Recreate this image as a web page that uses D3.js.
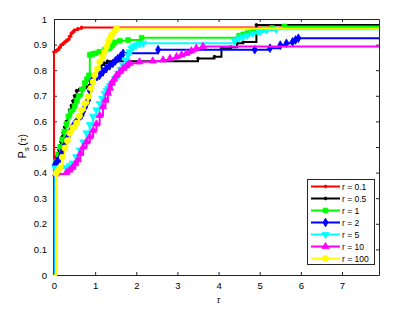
<!DOCTYPE html>
<html>
<head>
<meta charset="utf-8">
<script src="https://cdn.jsdelivr.net/npm/d3@7"></script>
<style>
  body { margin: 0; background: #fff; }
  text { font-family: "Liberation Sans", Arial, sans-serif; }
</style>
</head>
<body>
<script>
// performance profile data
const legendLabels = ['r = 0.1', 'r = 0.5', 'r = 1', 'r = 2', 'r = 5', 'r = 10', 'r = 100'];
const xTicks = [0, 1, 2, 3, 4, 5, 6, 7];
const yTicks = [0, 0.1, 0.2, 0.3, 0.4, 0.5, 0.6, 0.7, 0.8, 0.9, 1];

const tauR01 = [0, 0, 0.05, 0.09, 0.13, 0.17, 0.22, 0.26, 0.3, 0.34, 0.38, 0.42, 0.46, 0.5, 0.58, 0.67, 7.9];
const pR01 = [0, 0.871, 0.876, 0.88, 0.889, 0.898, 0.904, 0.91, 0.915, 0.92, 0.932, 0.944, 0.95, 0.957, 0.962, 0.967, 0.967];

const tauR05 = [0, 0.03, 0.06, 0.09, 0.12, 0.15, 0.17, 0.2, 0.22, 0.26, 0.3, 0.34, 0.38, 0.42, 0.46, 0.5, 0.55, 0.62, 0.7, 0.78, 0.87, 0.91, 0.95, 1.0, 1.05, 1.1, 1.15, 1.22, 1.3, 3.5, 3.9, 4.07, 4.3, 4.45, 4.6, 4.92, 7.9];
const pR05 = [0, 0.43, 0.462, 0.475, 0.49, 0.505, 0.52, 0.54, 0.555, 0.578, 0.6, 0.622, 0.645, 0.662, 0.68, 0.7, 0.72, 0.725, 0.73, 0.736, 0.742, 0.756, 0.77, 0.785, 0.8, 0.81, 0.82, 0.828, 0.835, 0.846, 0.853, 0.886, 0.89, 0.905, 0.91, 0.977, 0.977];

const tauR1 = [0, 0.04, 0.1, 0.15, 0.2, 0.25, 0.3, 0.35, 0.42, 0.5, 0.55, 0.6, 0.68, 0.75, 0.8, 0.85, 0.87, 0.93, 1.0, 1.1, 1.23, 1.35, 1.42, 1.48, 1.6, 1.8, 2.13, 4.5, 4.6, 4.7, 4.8, 4.88, 5.0, 5.1, 5.3, 5.6, 7.9];
const pR1 = [0, 0.44, 0.47, 0.5, 0.53, 0.56, 0.59, 0.62, 0.64, 0.66, 0.68, 0.7, 0.725, 0.75, 0.765, 0.78, 0.86, 0.863, 0.866, 0.872, 0.88, 0.886, 0.898, 0.909, 0.915, 0.918, 0.927, 0.935, 0.94, 0.945, 0.948, 0.95, 0.955, 0.96, 0.965, 0.971, 0.971];

const tauR2 = [0, 0.02, 0.08, 0.14, 0.18, 0.22, 0.26, 0.3, 0.34, 0.38, 0.42, 0.46, 0.5, 0.55, 0.6, 0.67, 0.71, 0.75, 0.79, 0.83, 0.87, 0.91, 0.95, 1.0, 1.05, 1.11, 1.19, 1.27, 1.35, 1.43, 1.49, 1.55, 1.62, 1.68, 2.53, 4.88, 5.25, 5.5, 5.65, 5.8, 5.87, 5.94, 7.9];
const pR2 = [0, 0.43, 0.443, 0.457, 0.474, 0.49, 0.508, 0.527, 0.541, 0.555, 0.568, 0.58, 0.59, 0.6, 0.612, 0.625, 0.64, 0.655, 0.67, 0.684, 0.72, 0.755, 0.762, 0.77, 0.775, 0.78, 0.794, 0.807, 0.817, 0.827, 0.836, 0.845, 0.855, 0.866, 0.88, 0.88, 0.886, 0.898, 0.905, 0.911, 0.918, 0.925, 0.925];

const tauR5 = [0, 0.03, 0.3, 0.38, 0.45, 0.54, 0.63, 0.71, 0.79, 0.87, 0.95, 1.03, 1.11, 1.17, 1.23, 1.28, 1.32, 1.36, 1.4, 1.48, 1.56, 1.62, 1.68, 1.74, 1.8, 1.84, 1.88, 1.94, 2.0, 2.08, 2.17, 4.4, 4.5, 4.6, 4.7, 4.83, 5.0, 5.17, 5.4, 7.9];
const pR5 = [0, 0.418, 0.42, 0.428, 0.437, 0.462, 0.488, 0.52, 0.555, 0.588, 0.62, 0.645, 0.67, 0.69, 0.71, 0.72, 0.73, 0.74, 0.749, 0.768, 0.788, 0.804, 0.82, 0.84, 0.859, 0.872, 0.886, 0.892, 0.898, 0.902, 0.905, 0.915, 0.925, 0.93, 0.936, 0.944, 0.95, 0.957, 0.96, 0.96];

const tauR10 = [0, 0.05, 0.3, 0.38, 0.45, 0.52, 0.58, 0.64, 0.71, 0.79, 0.87, 0.95, 1.03, 1.11, 1.19, 1.25, 1.31, 1.36, 1.4, 1.46, 1.52, 1.6, 1.68, 1.76, 1.84, 2.08, 2.4, 2.65, 2.82, 2.98, 3.1, 3.22, 3.34, 3.46, 3.62, 7.9];
const pR10 = [0, 0.395, 0.4, 0.41, 0.42, 0.435, 0.45, 0.475, 0.5, 0.52, 0.54, 0.565, 0.59, 0.623, 0.657, 0.683, 0.71, 0.73, 0.749, 0.765, 0.78, 0.794, 0.807, 0.817, 0.827, 0.833, 0.836, 0.84, 0.846, 0.853, 0.86, 0.866, 0.876, 0.886, 0.893, 0.893];

const tauR100 = [0, 0.05, 0.1, 0.15, 0.2, 0.26, 0.32, 0.38, 0.46, 0.55, 0.61, 0.67, 0.75, 0.83, 0.9, 0.95, 0.99, 1.05, 1.11, 1.17, 1.23, 1.28, 1.32, 1.36, 1.4, 1.46, 1.52, 7.9];
const pR100 = [0, 0.397, 0.41, 0.42, 0.46, 0.496, 0.525, 0.555, 0.575, 0.594, 0.62, 0.645, 0.67, 0.696, 0.73, 0.755, 0.78, 0.806, 0.833, 0.852, 0.872, 0.892, 0.911, 0.925, 0.9375, 0.95, 0.963, 0.963];

const taus = [tauR01, tauR05, tauR1, tauR2, tauR5, tauR10, tauR100];
const ps = [pR01, pR05, pR1, pR2, pR5, pR10, pR100];
const colors = ['#ff0000', '#000000', '#00ff00', '#0000ff', '#00ffff', '#ff00ff', '#ffff00'];
const markers = ['dot', 'dot', 'square', 'diamond', 'triangleDown', 'triangleUp', 'circle'];

const width = 404;
const height = 322;
const margin = { top: 19, right: 25, bottom: 47, left: 54 };

const svg = d3.select('body').append('svg')
  .attr('width', width)
  .attr('height', height);

const x = d3.scaleLinear().domain([0, 7.9]).range([margin.left, width - margin.right]);
const y = d3.scaleLinear().domain([0, 1]).range([height - margin.bottom, margin.top]);

// axes, ticks pointing inward like matlab
const tickSize = 3;
const axisColor = '#262626';

svg.append('g')
  .attr('transform', `translate(0,${y(0)})`)
  .call(d3.axisBottom(x).tickValues(xTicks).tickSizeInner(-tickSize).tickSizeOuter(0).tickPadding(7))
  .call(g => g.selectAll('text').attr('font-size', 9.5).attr('fill', '#000'));

svg.append('g')
  .attr('transform', `translate(0,${y(1)})`)
  .call(d3.axisTop(x).tickValues(xTicks).tickSizeInner(-tickSize).tickSizeOuter(0).tickFormat(''));

svg.append('g')
  .attr('transform', `translate(${x(0)},0)`)
  .call(d3.axisLeft(y).tickValues(yTicks).tickSizeInner(-tickSize).tickSizeOuter(0).tickPadding(7).tickFormat(d3.format('~g')))
  .call(g => g.selectAll('text').attr('font-size', 9.5).attr('fill', '#000'));

svg.append('g')
  .attr('transform', `translate(${x(7.9)},0)`)
  .call(d3.axisRight(y).tickValues(yTicks).tickSizeInner(-tickSize).tickSizeOuter(0).tickFormat(''));

svg.selectAll('.domain, .tick line').attr('stroke', axisColor);

// step curves
const line = d3.line()
  .x(d => x(d[0]))
  .y(d => y(d[1]))
  .curve(d3.curveStepAfter);

const symbolFor = {
  square: d3.symbol().type(d3.symbolSquare).size(22),
  diamond: d3.symbol().type(d3.symbolDiamond).size(22),
  triangleUp: d3.symbol().type(d3.symbolTriangle).size(22),
  triangleDown: d3.symbol().type(d3.symbolTriangle).size(22),
  circle: d3.symbol().type(d3.symbolCircle).size(28),
  dot: d3.symbol().type(d3.symbolCircle).size(6),
};

const drawMarker = function (g, kind, cx, cy, color) {
  const rot = kind === 'triangleDown' ? 180 : 0;
  g.append('path')
    .attr('d', symbolFor[kind]())
    .attr('transform', `translate(${cx},${cy}) rotate(${rot})`)
    .attr('fill', color)
    .attr('stroke', color)
    .attr('stroke-width', 0.8);
};

const plot = svg.append('g');

taus.forEach((tau, i) => {
  const pts = tau.map((t, j) => [t, ps[i][j]]);
  plot.append('path')
    .datum(pts)
    .attr('fill', 'none')
    .attr('stroke', colors[i])
    .attr('stroke-width', 2)
    .attr('d', line);

  // markers on the data points (not the start or the padded end)
  pts.slice(1, -1).forEach(d => drawMarker(plot, markers[i], x(d[0]), y(d[1]), colors[i]));
});

// axis labels
svg.append('text')
  .attr('x', x(4))
  .attr('y', 303)
  .attr('text-anchor', 'middle')
  .attr('font-size', 9)
  .attr('font-style', 'italic')
  .attr('font-family', '"DejaVu Serif", serif')
  .text('τ');

const yLabel = svg.append('text')
  .attr('transform', 'translate(26,146) rotate(-90)')
  .attr('text-anchor', 'middle')
  .attr('font-size', 10.5);
yLabel.append('tspan').text('P');
yLabel.append('tspan').attr('font-size', 7.5).attr('dy', 3).text('s');
yLabel.append('tspan').attr('dy', -3).attr('dx', 1.5).text('(');
yLabel.append('tspan').attr('font-style', 'italic').attr('font-family', '"DejaVu Serif", serif').attr('font-size', 9).text('τ');
yLabel.append('tspan').text(')');

// legend
const legend = svg.append('g');
legend.append('rect')
  .attr('x', 307.5)
  .attr('y', 179.5)
  .attr('width', 67)
  .attr('height', 85)
  .attr('fill', '#fff')
  .attr('stroke', axisColor)
  .attr('stroke-width', 1);

legendLabels.forEach((label, i) => {
  const ly = 186.5 + i * 12;
  legend.append('line')
    .attr('x1', 311)
    .attr('x2', 340)
    .attr('y1', ly)
    .attr('y2', ly)
    .attr('stroke', colors[i])
    .attr('stroke-width', 2);
  drawMarker(legend, markers[i], 325.5, ly, colors[i]);
  legend.append('text')
    .attr('x', 342)
    .attr('y', ly + 3)
    .attr('font-size', 8.5)
    .text(label);
});
</script>
</body>
</html>
